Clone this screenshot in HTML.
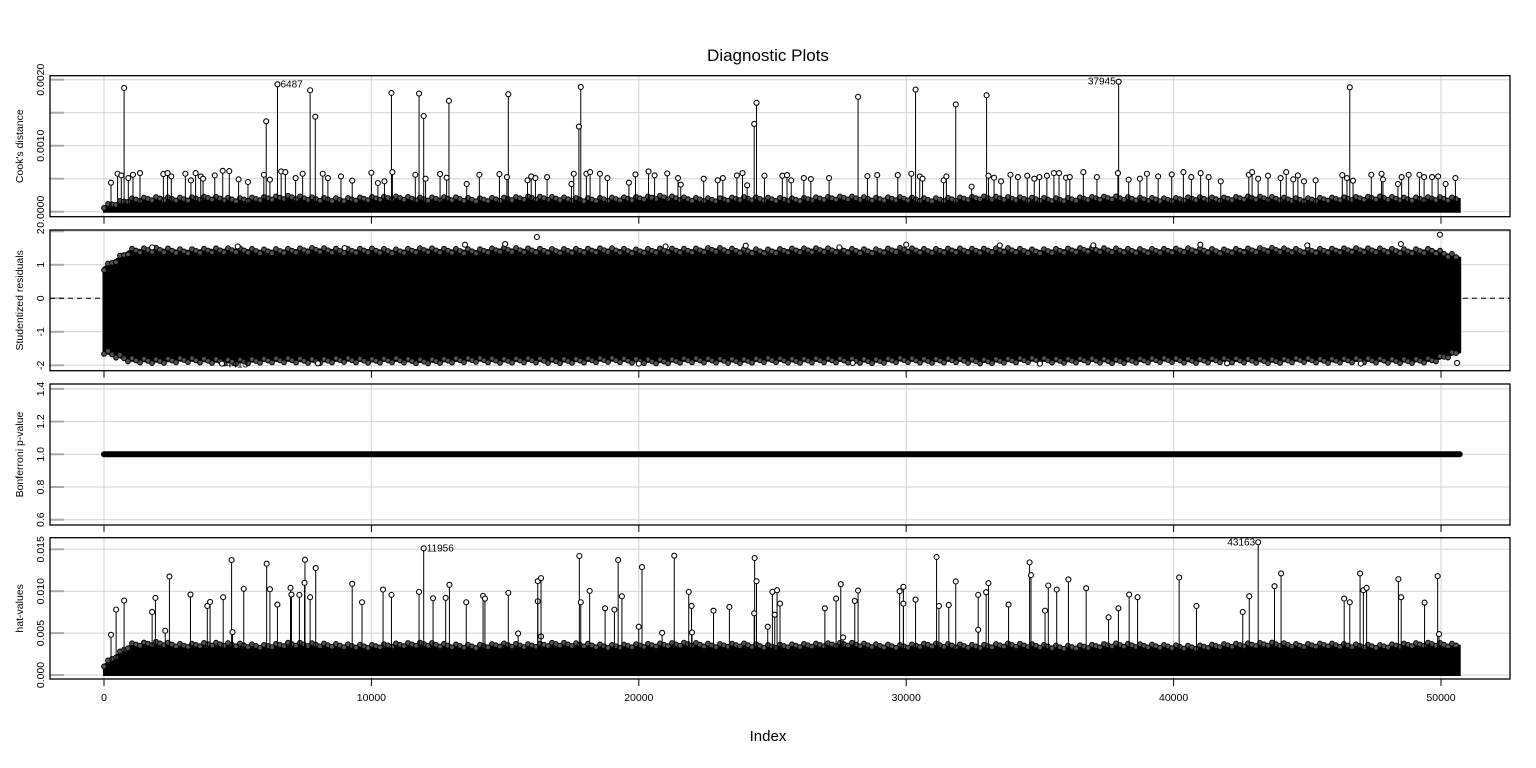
<!DOCTYPE html>
<html><head><meta charset="utf-8"><style>
html,body{margin:0;padding:0;background:#fff}
svg{display:block;font-family:"Liberation Sans",Arial,sans-serif}
</style></head><body>
<svg id="chart" width="1536" height="768" viewBox="0 0 1536 768">
<text x="768" y="61" text-anchor="middle" font-size="17">Diagnostic Plots</text>
<text x="768" y="741" text-anchor="middle" font-size="15">Index</text>
<g id="layer"></g>
</svg>
<script>
// ---- data ----
const xTicks=[0,10000,20000,30000,40000,50000];
const nObs=50700;
const cookTicks=[0,0.0010,0.0020];
const cookTickLabels=["0.0000","0.0010","0.0020"];
const cookGrid=[0,0.0005,0.0010,0.0015,0.0020];
const cookIdx=[752,6066,6487,7709,7901,10750,11782,11956,12900,15120,17830,17760,24402,24315,28200,30350,31853,33007,37945,46589,
262,507,647,909,1084,1346,2220,2377,2517,3042,3251,3426,3618,3706,4143,4440,4685,5034,5384,5978,6205,6625,6782,7167,7429,8181,8373,8862,9282,9999,10243,10488,10785,11642,12026,12568,12813,13564,14036,14788,15068,15837,15977,16134,16571,17480,17567,18039,18179,18546,18826,19630,19875,20364,20591,21063,21465,21570,22427,22951,23144,23668,23878,24052,24699,
25368,25543,25700,26172,26434,27116,28549,28916,29685,30192,30507,30612,31398,31503,32447,33076,33286,33548,33898,34178,34527,34790,34982,35261,35524,35716,35978,36118,36625,37132,37918,38320,38740,39002,39422,39929,40366,40663,41012,41310,41764,42813,42935,43162,43530,44002,44211,44474,44648,44876,45312,46309,46484,46711,47393,47777,47830,48389,48529,48791,49193,49368,49665,49892,50172,50539];
const cookVal=[0.001875,0.00137,0.00193,0.00184,0.00144,0.0018,0.00179,0.00145,0.00168,0.00178,0.00189,0.00129,0.00165,0.00133,0.00174,0.00185,0.001625,0.001765,0.00197,0.001885,
0.00044,0.000575,0.00055,0.00051,0.00056,0.000585,0.00057,0.000585,0.000535,0.000575,0.000475,0.000585,0.000535,0.0005,0.00055,0.00062,0.000615,0.00049,0.00045,0.00056,0.000485,0.00061,0.0006,0.00051,0.000575,0.000575,0.00051,0.000535,0.00047,0.00059,0.000435,0.00046,0.0006,0.00056,0.0005,0.00057,0.000515,0.00042,0.00056,0.00057,0.000525,0.000475,0.000535,0.00051,0.000525,0.00042,0.000575,0.000575,0.0006,0.000575,0.00051,0.00044,0.000565,0.00061,0.00055,0.00058,0.00051,0.00041,0.0005,0.000475,0.00051,0.00055,0.000585,0.0004,0.000545,
0.000545,0.000555,0.000475,0.00051,0.000495,0.00051,0.00054,0.000555,0.000555,0.000575,0.000535,0.0005,0.000475,0.000535,0.00038,0.000545,0.000515,0.00046,0.00056,0.000525,0.000545,0.0005,0.000525,0.000545,0.000585,0.000585,0.000515,0.000525,0.0006,0.000525,0.000585,0.000485,0.0005,0.000575,0.000535,0.000565,0.0006,0.000525,0.000585,0.000525,0.00046,0.00056,0.0006,0.0005,0.000545,0.00051,0.0006,0.00049,0.00055,0.00046,0.000475,0.000555,0.00051,0.00047,0.00056,0.000575,0.00049,0.00042,0.000525,0.00056,0.00056,0.000525,0.000525,0.000535,0.00042,0.00051];
const cookBand=[0.00008,0.00018,0.0002,0.00019,0.00021,0.00018,0.0002,0.00022,0.00019,0.00018,0.0002,0.00021,0.00019,0.0002,0.00018,0.00019,0.00021,0.0002,0.00018,0.00019,0.0002,0.00022,0.00019,0.00018,0.0002,0.00019,0.00018,0.0002,0.00021,0.00019,0.0002,0.00018,0.00019,0.00021,0.0002,0.00019,0.00018,0.0002,0.00021,0.00019,0.00018,0.0002,0.00019,0.00021,0.0002,0.00018,0.00019,0.0002,0.00021,0.00019,0.0002,0.00019];
const resTicks=[-2,-1,0,1,2];
const resUpper=[0.9,1.42,1.45,1.4,1.43,1.44,1.4,1.42,1.45,1.41,1.43,1.4,1.44,1.42,1.4,1.45,1.43,1.41,1.42,1.44,1.4,1.43,1.42,1.45,1.41,1.4,1.43,1.44,1.42,1.4,1.45,1.41,1.43,1.42,1.44,1.4,1.42,1.45,1.43,1.41,1.42,1.44,1.4,1.43,1.45,1.41,1.42,1.44,1.43,1.4,1.42,1.2];
const resLower=[-1.6,-1.85,-1.88,-1.84,-1.87,-1.9,-1.86,-1.85,-1.88,-1.84,-1.87,-1.85,-1.89,-1.86,-1.84,-1.87,-1.85,-1.88,-1.86,-1.84,-1.87,-1.89,-1.85,-1.86,-1.88,-1.84,-1.87,-1.85,-1.86,-1.88,-1.84,-1.87,-1.85,-1.89,-1.86,-1.84,-1.87,-1.85,-1.88,-1.86,-1.84,-1.87,-1.85,-1.86,-1.88,-1.84,-1.87,-1.85,-1.86,-1.88,-1.85,-1.6];
const resOutIdx=[1800,5000,9000,13500,15000,16190,21000,24000,27500,30000,33500,37000,41000,45000,48500,49960,4413,8000,20000,28000,35000,42000,47000,50600];
const resOutVal=[1.52,1.55,1.5,1.6,1.62,1.83,1.55,1.57,1.52,1.6,1.58,1.58,1.6,1.58,1.62,1.9,-1.95,-1.94,-1.95,-1.93,-1.95,-1.94,-1.95,-1.93];
const bonfTicks=[0.6,0.8,1.0,1.2,1.4];
const bonfValue=1.0;
const hatTicks=[0,0.005,0.010,0.015];
const hatTickLabels=["0.000","0.005","0.010","0.015"];
const hatIdx=[454,752,262,1800,1923,2447,2290,3234,3863,3968,4457,4772,4807,5227,6083,6205,6485,6975,7009,7307,7516,7499,7709,7918,9282,9649,10436,10750,11782,11956,12306,12778,12918,13547,14176,14246,15120,15487,16221,16344,16221,16344,17777,17830,18162,18739,19088,19228,19368,19997,20120,20871,21326,21868,21972,21990,22794,23388,24332,24402,24315,24822,24996,25084,25171,
25280,26958,27378,27553,27640,28077,28200,29755,29895,29895,30350,31136,31224,31591,31853,32692,32692,32989,33076,33828,34615,34667,35192,35314,35629,36066,36730,37569,37936,38338,38653,40208,40855,42586,42830,43163,43774,44019,46379,46589,46973,47096,47218,48407,48511,49385,49875,49927];
const hatVal=[0.0078,0.00888,0.0048,0.00752,0.0092,0.01176,0.00528,0.0096,0.00824,0.00872,0.00928,0.01372,0.00512,0.01028,0.01328,0.01024,0.0084,0.0104,0.0096,0.00956,0.01376,0.011,0.00928,0.01276,0.01088,0.00868,0.0102,0.00956,0.00992,0.01512,0.00916,0.0092,0.01076,0.00868,0.00944,0.00912,0.0098,0.00496,0.0088,0.0046,0.0112,0.01156,0.0142,0.00868,0.01004,0.00796,0.0078,0.01372,0.0094,0.00576,0.01288,0.00504,0.01424,0.00992,0.00824,0.00508,0.00768,0.00812,0.01396,0.0112,0.00736,0.00576,0.00992,0.0072,0.01012,
0.00852,0.00796,0.00912,0.01084,0.00448,0.00884,0.01008,0.01,0.01052,0.00852,0.009,0.01408,0.00824,0.00836,0.01116,0.00956,0.0054,0.00988,0.01096,0.0084,0.01344,0.01192,0.00768,0.01068,0.0102,0.0114,0.01036,0.00688,0.00796,0.0096,0.00928,0.01164,0.00824,0.00752,0.0094,0.01584,0.0106,0.01212,0.00912,0.00868,0.01212,0.01012,0.0104,0.01144,0.00928,0.00864,0.0118,0.00488];
const hatBand=[0.0012,0.0036,0.0038,0.0035,0.0037,0.0036,0.0034,0.0037,0.0036,0.0035,0.0034,0.0036,0.0037,0.0035,0.0034,0.0036,0.0035,0.0037,0.0036,0.0034,0.0035,0.0036,0.0037,0.0035,0.0036,0.0034,0.0035,0.0036,0.0037,0.0035,0.0034,0.0036,0.0035,0.0034,0.0036,0.0035,0.0033,0.0034,0.0036,0.0035,0.0034,0.0033,0.0035,0.0036,0.0037,0.0035,0.0036,0.0035,0.0034,0.0036,0.0037,0.0035];

// ---- drawing ----
const NS="http://www.w3.org/2000/svg";
const layer=document.getElementById('layer');
const PL=50,PR=1510;
const x=i=>104+i*0.02674;
function mk(tag,attrs,parent){const e=document.createElementNS(NS,tag);for(const k in attrs)e.setAttribute(k,attrs[k]);(parent||layer).appendChild(e);return e;}
const panels=[
 {name:'cooks-distance',top:75.7,bot:216.7,y:v=>211.7-v*66000,title:"Cook's distance"},
 {name:'studentized-residuals',top:230,bot:370.7,y:v=>298.3-v*33.5,title:"Studentized residuals"},
 {name:'bonferroni-p-value',top:384,bot:525,y:v=>454.3-(v-1)*163.5,title:"Bonferroni p-value"},
 {name:'hat-values',top:537.7,bot:679,y:v=>675-v*8380,title:"hat-values"}];
function panelFrame(p,gridVals,tickVals,tickLabels){
  const g=mk('g',{});
  
  
  const cp=mk('clipPath',{id:'clip-'+p.name},g);
  mk('rect',{x:PL,y:p.top,width:PR-PL,height:p.bot-p.top},cp);
  xTicks.forEach(t=>{const l=mk('line',{x1:x(t),x2:x(t),y1:p.top,y2:p.bot,stroke:'#d3d3d3','stroke-width':1},g);});
  gridVals.forEach(v=>{const yy=p.y(v);if(yy<p.top||yy>p.bot)return;const l=mk('line',{x1:PL,x2:PR,y1:yy,y2:yy,stroke:'#d3d3d3','stroke-width':1},g);
    mk('line',{x1:PL,x2:PL+14,y1:yy,y2:yy,stroke:'#aaa','stroke-width':2},g);});
  tickVals.forEach((v,k)=>{const yy=p.y(v);const t=mk('text',{x:44,y:yy,'font-size':10.5,'text-anchor':'middle',transform:`rotate(-90 44 ${yy})`},g);t.textContent=tickLabels[k];});
  const tt=mk('text',{x:23,y:(p.top+p.bot)/2,'font-size':10.5,'text-anchor':'middle',transform:`rotate(-90 23 ${(p.top+p.bot)/2})`},g);
  tt.textContent=p.title;
  
  
  xTicks.forEach(t=>mk('line',{x1:x(t),x2:x(t),y1:p.bot,y2:p.bot+7,stroke:'#000'},g));
  const plot=mk('g',{'clip-path':`url(#clip-${p.name})`},g);
  return {g,plot};
}
function band(plot,p,arr,base){
  const n=arr.length,step=nObs/(n-1);
  let d=`M${x(0)},${p.y(base)}`;
  arr.forEach((v,k)=>{d+=` L${x(k*step)},${p.y(v)}`;});
  d+=` L${x(nObs)},${p.y(base)} Z`;
  const b=mk('path',{d,fill:'#000',stroke:'#000','stroke-width':2},plot);
  
  
  for(let px=x(0);px<=x(nObs);px+=4){const f=(px-x(0))/0.02674/step;const k=Math.min(n-2,Math.floor(f));const v=arr[k]+(arr[k+1]-arr[k])*(f-k);
    mk('circle',{cx:px,cy:p.y(v)+((Math.round(px)%3)-1)*1.5,r:2.4,fill:'#555',stroke:'#000','stroke-width':1},plot);}
}
function spikes(plot,p,idx,val,base){
  idx.forEach((i,k)=>{
    const l=mk('line',{x1:x(i),x2:x(i),y1:p.y(base),y2:p.y(val[k]),stroke:'#000','stroke-width':1},plot);
    
    
    const c=mk('circle',{cx:x(i),cy:p.y(val[k]),r:2.5,fill:'#fff',stroke:'#000','stroke-width':1.1},plot);
    
    
  });
}
// Panel 1: Cook's
let P=panels[0];let f=panelFrame(P,cookGrid,cookTicks,cookTickLabels);
band(f.plot,P,cookBand,0);
spikes(f.plot,P,cookIdx,cookVal,0);
// Panel 2: residuals
P=panels[1];f=panelFrame(P,resTicks,resTicks,resTicks.map(String));
{const n=resUpper.length,step=nObs/(n-1);let d=`M${x(0)},${P.y(resUpper[0])}`;
 resUpper.forEach((v,k)=>{d+=` L${x(k*step)},${P.y(v)}`;});
 for(let k=n-1;k>=0;k--)d+=` L${x(k*step)},${P.y(resLower[k])}`;d+=' Z';
 const b=mk('path',{d,fill:'#000',stroke:'#000','stroke-width':3},f.plot);
 
 
 [resUpper,resLower].forEach(arr=>{for(let px=x(0);px<=x(nObs);px+=4){const fr=(px-x(0))/0.02674/step;const k=Math.min(n-2,Math.floor(fr));const v=arr[k]+(arr[k+1]-arr[k])*(fr-k);
   mk('circle',{cx:px,cy:P.y(v)+((Math.round(px)%3)-1)*2,r:2.4,fill:'#555',stroke:'#000','stroke-width':1},f.plot);}});
 resOutIdx.forEach((i,k)=>{const c=mk('circle',{cx:x(i),cy:P.y(resOutVal[k]),r:2.5,fill:'#fff',stroke:'#000','stroke-width':1.1},f.plot);});
 const dl=mk('line',{x1:PL,x2:PR,y1:P.y(0),y2:P.y(0),stroke:'#000','stroke-dasharray':'5,4'},f.g);
 
 
 const t=mk('text',{x:x(4413)+4,y:P.y(-1.95)+4,'font-size':10},f.plot);t.textContent='4413';
}
// Panel 3: Bonferroni
P=panels[2];f=panelFrame(P,bonfTicks,bonfTicks,bonfTicks.map(v=>v.toFixed(1)));
{const l=mk('line',{x1:x(0),x2:x(nObs),y1:P.y(bonfValue),y2:P.y(bonfValue),stroke:'#000','stroke-width':6,'stroke-linecap':'round'},f.plot);
 
 }
// Panel 4: hat
P=panels[3];f=panelFrame(P,hatTicks,hatTicks,hatTickLabels);
band(f.plot,P,hatBand,0);
spikes(f.plot,P,hatIdx,hatVal,0);
// labels
function lab(txt,px,py,anchor,name){const t=mk('text',{x:px,y:py,'font-size':10,'text-anchor':anchor});t.textContent=txt;}
lab('6487',x(6487)+3,panels[0].y(0.00193)+3,'start','point-label-6487');
lab('37945',x(37945)-3,panels[0].y(0.00197)+3,'end','point-label-37945');
lab('11956',x(11956)+3,panels[3].y(0.01512)+3,'start','point-label-11956');
lab('43163',x(43163)-3,panels[3].y(0.01584)+3,'end','point-label-43163');
// frames on top
panels.forEach(p=>{const r=mk('rect',{x:PL,y:p.top,width:PR-PL,height:p.bot-p.top,fill:'none',stroke:'#000','stroke-width':1.3});});
xTicks.forEach(t=>{const e=mk('text',{x:x(t),y:701,'font-size':10.5,'text-anchor':'middle'});e.textContent=String(t);});
</script>
</body></html>
